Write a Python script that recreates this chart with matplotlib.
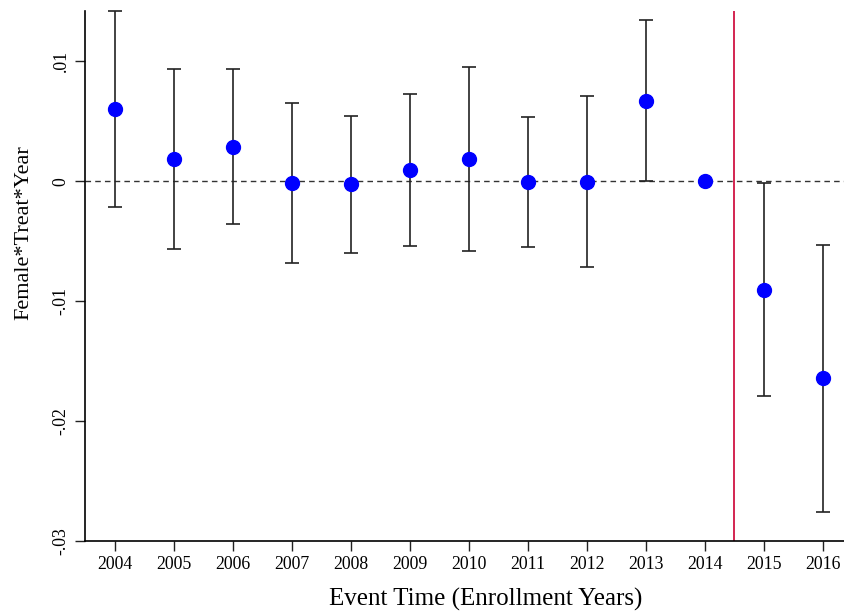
import matplotlib
matplotlib.use('Agg')
import matplotlib.pyplot as plt

plt.rcParams['font.family'] = ['Liberation Serif', 'DejaVu Serif']

years = [2004, 2005, 2006, 2007, 2008, 2009, 2010, 2011, 2012, 2013, 2014, 2015, 2016]
coef = [0.0060, 0.0019, 0.0029, -0.00014, -0.00025, 0.00092, 0.00183, -0.00005, -0.00003,
        0.00673, 0.0, -0.00903, -0.01644]
upper = [0.0142, 0.00939, 0.00933, 0.00653, 0.00548, 0.00725, 0.00953, 0.00536, 0.00714,
         0.01342, 0.0, -0.00017, -0.00533]
lower = [-0.00217, -0.00567, -0.00353, -0.0068, -0.00597, -0.00542, -0.00583, -0.0055, -0.00717,
         0.0, 0.0, -0.01792, -0.02755]
yticks = [-0.03, -0.02, -0.01, 0, 0.01]
ytick_labels = ['-.03', '-.02', '-.01', '0', '.01']

fig = plt.figure(figsize=(8.44, 6.12), dpi=100)
ax = fig.add_axes([0.1007, 0.116, 0.8993, 0.866])

# zero line and treatment marker
ax.axhline(0, color='#333333', lw=1, ls=(0, (4, 3)), zorder=1)
ax.axvline(2014.5, color='#cc0033', lw=1.2, zorder=1)

# skip the base year (no interval)
for i in range(len(years)):
    if years[i] == 2014:
        continue
    ax.errorbar(years[i], coef[i], yerr=[[coef[i] - lower[i]], [upper[i] - coef[i]]],
                fmt='none', ecolor='#222222', elinewidth=1.2, capsize=5, capthick=1.2,
                zorder=2, clip_on=False)
ax.plot(years, coef, 'o', color='#0000ff', ms=10, zorder=3, clip_on=False)

ax.set_xlim(2003.5, 2016.36)
ax.set_ylim(-0.03, 0.0142)
ax.set_xticks(years)
ax.set_xticklabels([str(y) for y in years], fontsize=12.8)
ax.set_yticks(yticks)
ax.set_yticklabels(ytick_labels, fontsize=12.8, rotation=90, va='center')
ax.tick_params(axis='both', direction='out', length=7, width=1, color='#222222', pad=4)

for s in ['top', 'right']:
    ax.spines[s].set_visible(False)
for s in ['left', 'bottom']:
    ax.spines[s].set_linewidth(1.2)

ax.set_xlabel('Event Time (Enrollment Years)', fontsize=18, va='center')
ax.xaxis.set_label_coords(0.528, -0.111)
ax.set_ylabel('Female*Treat*Year', fontsize=16, va='center')
ax.yaxis.set_label_coords(-0.080, 0.582)

fig.savefig('out.png', dpi=100)
